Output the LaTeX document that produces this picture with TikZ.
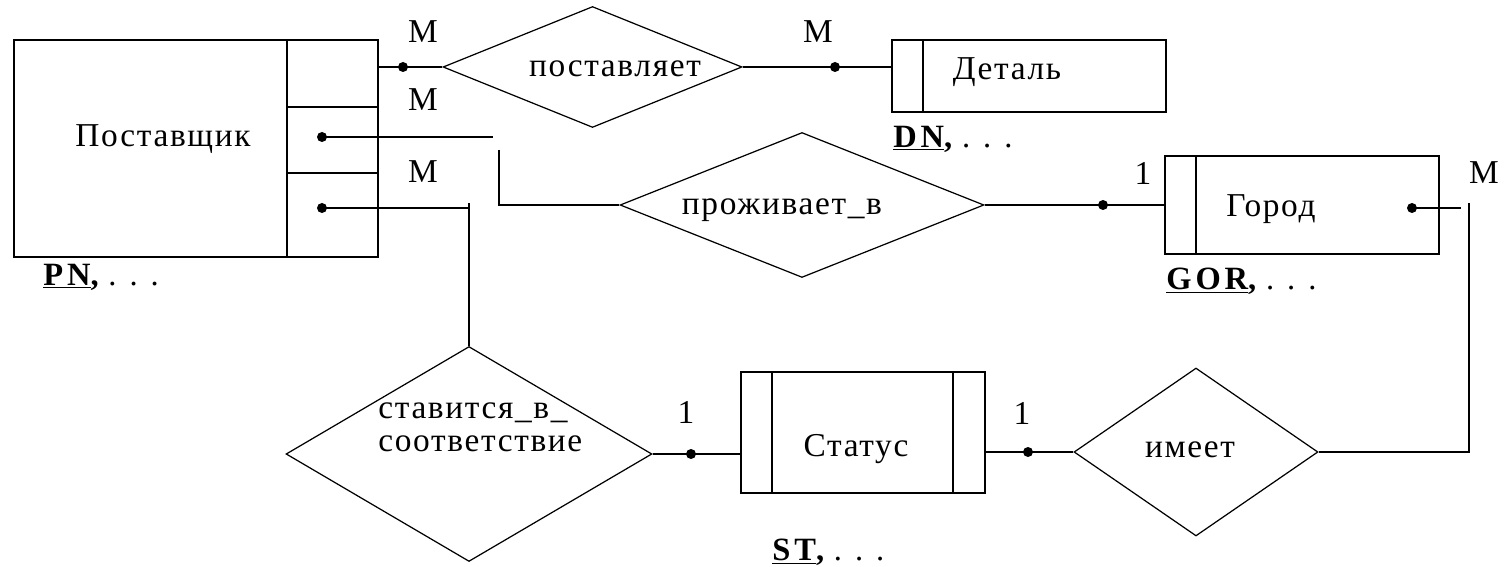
\documentclass[tikz,border=0pt]{standalone}
\usepackage{fontspec}
\setmainfont{Liberation Serif}[LetterSpace=5]
\usetikzlibrary{shapes.geometric}
\newcommand{\keyname}[1]{{\bfseries\addfontfeatures{LetterSpace=12}\underline{#1},}}
\begin{document}
\begin{tikzpicture}[x=0.02cm,y=-0.02cm,
  ent/.style={draw, line width=0.9pt, rectangle, inner sep=0},
  part/.style={line width=0.9pt},
  rel/.style={draw, line width=0.7pt, diamond, inner sep=0},
  conn/.style={line width=0.8pt},
  txt/.style={font=\fontsize{19}{23}\selectfont, inner sep=0},
  key/.style={font=\fontsize{18.5}{22}\selectfont, inner sep=0, anchor=west},
  dotn/.style={circle, fill, inner sep=0, minimum size=0.2cm},
]
\useasboundingbox (0,0) rectangle (1505,567);

% entities
\node[ent, minimum width=7.28cm, minimum height=4.34cm] (sup) at (196,148.5) {};
\draw[part] (287,40) -- (287,257);
\draw[part] (287,107) -- (378,107);
\draw[part] (287,173) -- (378,173);
\node[txt] (tsup) at (163,139) {Поставщик};

\node[ent, minimum width=5.48cm, minimum height=1.44cm] (detal) at (1029,76) {};
\draw[part] (923,40) -- (923,112);
\node[txt] (tdetal) at (1007,72) {Деталь};

\node[ent, minimum width=5.48cm, minimum height=1.96cm] (gorod) at (1302,205) {};
\draw[part] (1196,156) -- (1196,254);
\node[txt] (tgorod) at (1271,209) {Город};

\node[ent, minimum width=4.88cm, minimum height=2.42cm] (status) at (863,432.5) {};
\draw[part] (772,372) -- (772,493);
\draw[part] (953,372) -- (953,493);
\node[txt] (tstatus) at (856,449) {Статус};

% relationships
\node[rel, minimum width=5.98cm, minimum height=2.42cm] (postav) at (592.5,67) {};
\node[txt] (tpostav) at (615,69) {поставляет};

\node[rel, minimum width=7.28cm, minimum height=2.9cm] (prozh) at (802,205) {};
\node[txt] (tprozh) at (782,210) {проживает\_в};

\node[rel, minimum width=7.32cm, minimum height=4.3cm] (stav) at (469,454) {};
\node[txt, anchor=west] (tstav1) at (378,413) {ставится\_в\_};
\node[txt, anchor=west] (tstav2) at (378,444) {соответствие};

\node[rel, minimum width=4.88cm, minimum height=3.36cm] (imeet) at (1196,452) {};
\node[txt] (timeet) at (1190,450) {имеет};

% connectors
\node[dotn] (d1) at (403,67) {};
\draw[conn] (sup.east |- d1) -- (postav.west);

\node[dotn] (d2) at (835,67) {};
\draw[conn] (postav.east) -- (postav.east -| detal.west);

\node[dotn] (d3) at (322,137) {};
\coordinate (c3) at (493,137);
\draw[conn] (d3.center) -- (c3);
\coordinate (c3b) at (499,150);
\draw[conn] (c3b) |- (prozh.west);

\node[dotn] (d4) at (322,208) {};
\coordinate (c4) at (469,208);
\draw[conn] (d4.center) -- (c4);
\coordinate (c4b) at (469,203);
\draw[conn] (c4b) -- (stav.north);

\node[dotn] (d5) at (1103,205) {};
\draw[conn] (prozh.east) -- (prozh.east -| gorod.west);

\node[dotn] (d6) at (1412,208) {};
\coordinate (c6) at (1461,208);
\draw[conn] (d6.center) -- (c6);
\coordinate (c6b) at (1469,203);
\draw[conn] (c6b) |- (imeet.east);

\node[dotn] (d7) at (1028,452) {};
\draw[conn] (imeet.west -| status.east) -- (imeet.west);

\node[dotn] (d8) at (691,454) {};
\draw[conn] (stav.east) -- (stav.east -| status.west);

% cardinalities
\node[txt] (m1) at (423,32) {М};
\node[txt] (m2) at (423,100) {М};
\node[txt] (m3) at (423,172) {М};
\node[txt] (m4) at (818,32) {М};
\node[txt] (o1) at (1143,173) {1};
\node[txt] (m5) at (1484,173) {М};
\node[txt] (o2) at (686,412) {1};
\node[txt] (o3) at (1022,413) {1};

% keys
\node[key] (kpn) at (43,277) {\keyname{PN} . . .};
\node[key] (kdn) at (893,139) {\keyname{DN} . . .};
\node[key] (kgor) at (1166,281) {\keyname{GOR} . . .};
\node[key] (kst) at (772,552) {\keyname{ST} . . .};
\end{tikzpicture}
\end{document}
